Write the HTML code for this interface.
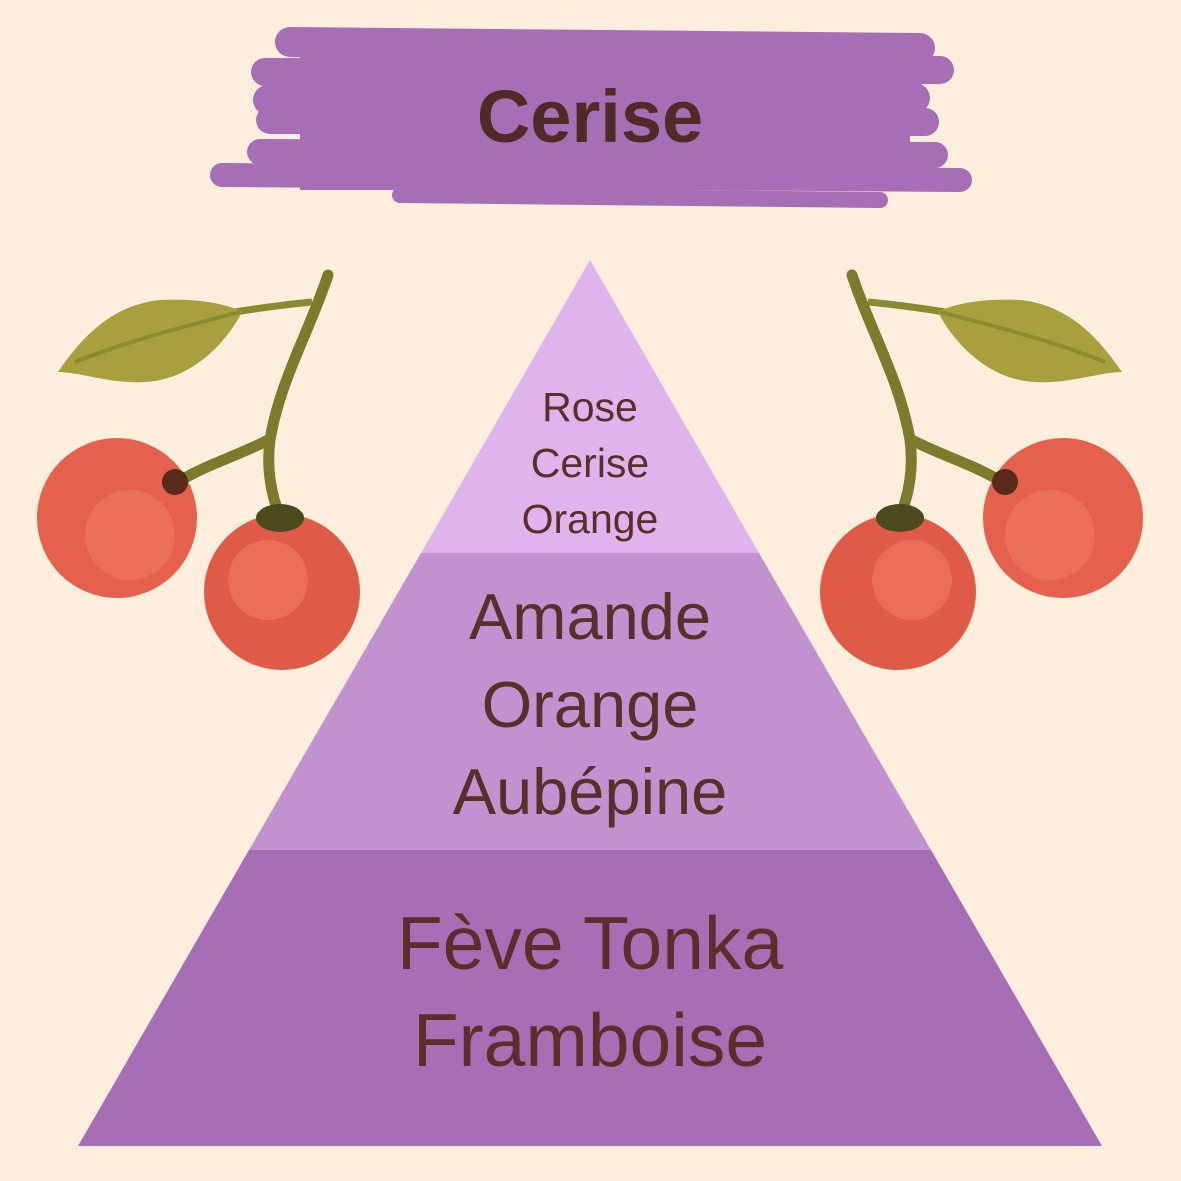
<!DOCTYPE html>
<html><head><meta charset="utf-8"><style>
html,body{margin:0;padding:0;background:#fdeedd;}
svg{display:block}
</style></head><body>
<svg width="1181" height="1181" viewBox="0 0 1181 1181" xmlns="http://www.w3.org/2000/svg">
<rect width="1181" height="1181" fill="#fdeedd"/>
<g stroke="#a66fb5" stroke-linecap="round" fill="none">
<path d="M290 42 L920 48" stroke-width="30"/>
<path d="M265 72 L940 70" stroke-width="28"/>
<path d="M268 100 L915 98" stroke-width="30"/>
<path d="M270 120 L925 122" stroke-width="28"/>
<path d="M260 152 L935 155" stroke-width="26"/>
<path d="M222 175 L960 180" stroke-width="24"/>
<path d="M400 195 L880 200" stroke-width="16"/>
</g>
<rect x="300" y="40" width="610" height="150" fill="#a66fb5"/>
<text x="590" y="142" text-anchor="middle" font-family="Liberation Sans, sans-serif" font-weight="bold" font-size="74" fill="#4f2a26">Cerise</text>

<polygon points="590,260 759,553 421,553" fill="#dfb4ec"/>
<polygon points="421,553 759,553 931,850 249,850" fill="#c292d0"/>
<polygon points="249,850 931,850 1102,1146 78,1146" fill="#a66fb5"/>

<g font-family="Liberation Sans, sans-serif" fill="#5a2e2a" text-anchor="middle">
<text x="590" y="421" font-size="41">Rose</text>
<text x="590" y="477" font-size="41">Cerise</text>
<text x="590" y="533" font-size="41">Orange</text>
<text x="590" y="639" font-size="65">Amande</text>
<text x="590" y="727" font-size="65">Orange</text>
<text x="590" y="814" font-size="65">Aubépine</text>
<text x="590" y="969" font-size="75">Fève Tonka</text>
<text x="590" y="1066" font-size="75">Framboise</text>
</g>

<defs>
<g id="ch">
<path d="M328 275 C310 330 280 380 270 440 C266 470 272 500 282 520" stroke="#7d7a2c" stroke-width="11" fill="none" stroke-linecap="round"/>
<path d="M268 440 C240 455 205 465 178 482" stroke="#7d7a2c" stroke-width="11" fill="none" stroke-linecap="round"/>
<path d="M312 302 C280 305 260 308 235 312" stroke="#8a8a30" stroke-width="7" fill="none"/>
<path d="M58 372 C80 340 110 305 160 300 C200 298 230 305 242 312 C225 345 190 380 145 382 C110 384 80 372 58 372 Z" fill="#a8a03e"/>
<path d="M75 362 C130 340 190 325 240 312" stroke="#8a8a30" stroke-width="4" fill="none"/>
<circle cx="117" cy="518" r="80" fill="#e5604d"/>
<circle cx="130" cy="535" r="45" fill="#f07a62" opacity="0.6"/>
<circle cx="282" cy="592" r="78" fill="#e05a48"/>
<circle cx="268" cy="580" r="40" fill="#f07a62" opacity="0.6"/>
<circle cx="175" cy="482" r="13" fill="#5a2a1a"/>
<ellipse cx="280" cy="518" rx="24" ry="14" fill="#4a4a1c"/>
</g>
</defs>
<use href="#ch"/>
<use href="#ch" transform="translate(1180,0) scale(-1,1)"/>
</svg>
</body></html>
